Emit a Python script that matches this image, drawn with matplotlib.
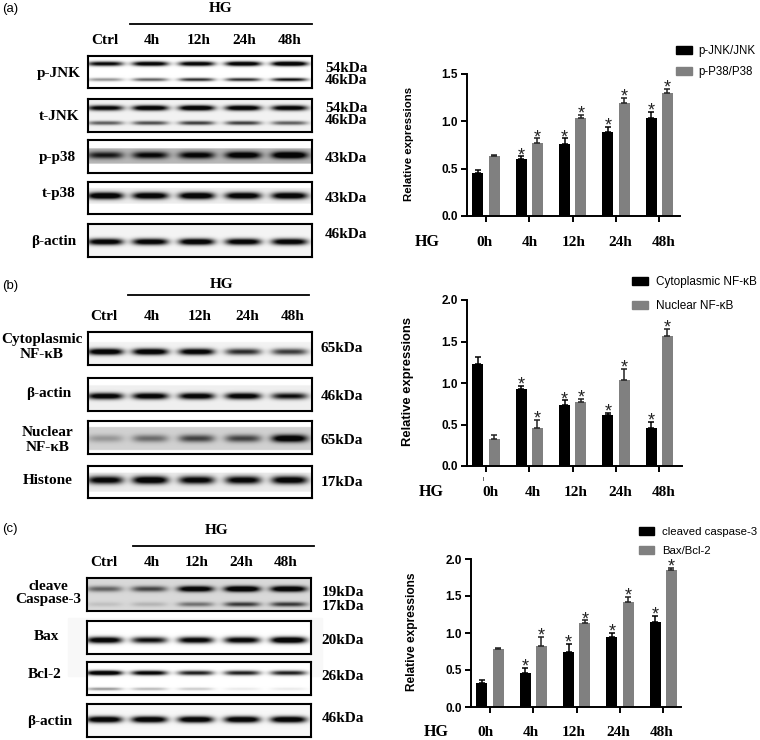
import numpy as np
import matplotlib
matplotlib.use('Agg')
from matplotlib import pyplot as plt
from matplotlib.patches import Rectangle

W, H = 760, 740
SERIF = 'Liberation Serif'
SANS = 'Liberation Sans'

# bar chart values: means and tops of the error bars
groups = ['0h', '4h', '12h', '24h', '48h']
lanes = ['Ctrl', '4h', '12h', '24h', '48h']

a_black = [0.45, 0.60, 0.76, 0.89, 1.04]
a_black_top = [0.49, 0.63, 0.82, 0.94, 1.10]
a_grey = [0.63, 0.77, 1.04, 1.19, 1.30]
a_grey_top = [0.64, 0.82, 1.07, 1.25, 1.34]

b_black = [1.23, 0.93, 0.73, 0.61, 0.46]
b_black_top = [1.31, 0.96, 0.79, 0.64, 0.53]
b_grey = [0.32, 0.46, 0.77, 1.04, 1.57]
b_grey_top = [0.37, 0.56, 0.81, 1.17, 1.65]

c_black = [0.32, 0.46, 0.74, 0.95, 1.15]
c_black_top = [0.36, 0.53, 0.85, 1.00, 1.23]
c_grey = [0.78, 0.83, 1.13, 1.42, 1.85]
c_grey_top = [0.80, 0.95, 1.17, 1.49, 1.88]

# no star on the 0h bars
star_black = [False, True, True, True, True]
star_grey = [False, True, True, True, True]

# band darkness per lane, estimated from the blots
p_jnk_54 = [0.75, 0.85, 0.85, 0.9, 0.98]
p_jnk_46 = [0.3, 0.45, 0.6, 0.6, 0.7]
t_jnk_54 = [0.8, 0.9, 0.95, 0.9, 0.85]
t_jnk_46 = [0.45, 0.5, 0.55, 0.55, 0.45]
p_p38 = [0.65, 0.75, 0.8, 0.9, 1.0]
t_p38 = [0.95, 0.9, 0.95, 0.9, 0.9]
actin_a = [0.85, 0.85, 0.9, 0.85, 0.85]

cyto_nfkb = [0.9, 0.9, 0.85, 0.6, 0.55]
actin_b = [0.85, 0.85, 0.85, 0.85, 0.7]
nuc_nfkb = [0.2, 0.35, 0.5, 0.5, 0.9]
histone = [0.8, 0.9, 0.8, 0.8, 0.85]

casp_19 = [0.4, 0.5, 0.9, 1.0, 0.95]
casp_17 = [0.08, 0.12, 0.35, 0.55, 0.55]
bax = [0.85, 0.7, 0.8, 0.8, 0.95]
bcl2_top = [0.95, 0.8, 0.65, 0.65, 0.65]
bcl2_low = [0.3, 0.2, 0.15, 0.06, 0.06]
actin_c = [0.9, 0.9, 0.9, 0.9, 0.9]

fig = plt.figure(figsize=(W / 100, H / 100), dpi=100)


def px_axes(x0, y0, x1, y1, **kw):
    # y0 is the top edge, all in picture pixels
    return fig.add_axes([x0 / W, 1 - y1 / H, (x1 - x0) / W, (y1 - y0) / H], **kw)


def label(x, y, s, font=SERIF, size=11, weight='bold', **kw):
    fig.text(x / W, 1 - y / H, s, family=font, fontsize=size, weight=weight,
             ha=kw.pop('ha', 'center'), va=kw.pop('va', 'center'), **kw)


def blot(box, bands, lane_x, bg=1.0, strip=None):
    # bands: (height in box, darkness per lane, thickness)
    x0, y0, x1, y1 = box
    ax = px_axes(x0, y0, x1, y1)
    ny, nx = (y1 - y0) * 3, (x1 - x0) * 3
    yy, xx = np.mgrid[0:1:ny * 1j, 0:1:nx * 1j]
    img = np.full((ny, nx), 1.0)
    if strip:
        img[(yy > strip[0]) & (yy < strip[1])] = strip[2]
    else:
        img[:] = bg
    for yc, dark, thick in bands:
        for lx, d in zip(lane_x, dark):
            shape = np.exp(-((xx - lx) / 0.08) ** 4) * np.exp(-((yy - yc) / (thick * 0.9)) ** 2)
            img *= 1 - np.clip(1.4 * d * shape, 0, 0.97)
    ax.imshow(img, cmap='gray', vmin=0, vmax=1, aspect='auto', extent=(0, 1, 1, 0),
              interpolation='bilinear')
    ax.set_xticks([])
    ax.set_yticks([])
    for s in ax.spines.values():
        s.set_linewidth(1.5)


def bars(box, ymax, yticks, black, black_top, grey, grey_top, first_x, ylab_x, ylab_size):
    x0, y0, x1, y1 = box
    ax = px_axes(x0, y0, x1, y1)
    x = np.arange(len(groups))
    off, w = 0.188, 0.254
    ax.bar(x - off, black, w, color='black')
    ax.bar(x + off, grey, w, color='#808080')
    ax.errorbar(x - off, black, yerr=[np.zeros(5), np.array(black_top) - black], fmt='none',
                ecolor='black', elinewidth=1.1, capsize=2.4, capthick=1.1)
    ax.errorbar(x + off, grey, yerr=[np.zeros(5), np.array(grey_top) - grey], fmt='none',
                ecolor='#222222', elinewidth=1.1, capsize=2.4, capthick=1.1)
    for i in x:
        if star_black[i]:
            ax.annotate('*', (i - off, black_top[i]), xytext=(0, -5.5), textcoords='offset points',
                        ha='center', va='bottom', fontsize=13, family=SANS, color='#222222')
        if star_grey[i]:
            ax.annotate('*', (i + off, grey_top[i]), xytext=(0, -5.5), textcoords='offset points',
                        ha='center', va='bottom', fontsize=13, family=SANS, color='#222222')
    ax.set_ylim(0, ymax)
    ax.set_xlim(-first_x, (x1 - x0) / 43.3 - first_x)
    ax.set_xticks(x)
    ax.set_xticklabels([])
    ax.set_yticks(yticks)
    ax.set_yticklabels(['%.1f' % t for t in yticks], family=SANS, fontsize=8.5, weight='bold')
    ax.tick_params(width=1.4, length=4.5, pad=2)
    ax.patch.set_alpha(0)
    for s in ['top', 'right']:
        ax.spines[s].set_visible(False)
    for s in ['left', 'bottom']:
        ax.spines[s].set_linewidth(1.4)
    label(ylab_x, (y0 + y1) / 2 - 1, 'Relative expressions', font=SANS, size=ylab_size, rotation=90)
    return ax


def legend(ax, names, x, y, gap, size, hlen, tpad):
    h = [Rectangle((0, 0), 1, 1, color=c) for c in ['black', '#808080']]
    ax.legend(h, names, loc='upper left', bbox_to_anchor=(x / W, 1 - y / H),
              bbox_transform=fig.transFigure, frameon=False, borderpad=0, borderaxespad=0,
              handlelength=hlen, handleheight=0.7, handletextpad=tpad, labelspacing=gap,
              prop={'family': SANS, 'size': size})


def top_header(line, line_y, hg, lab_y, lab_x):
    fig.add_artist(plt.Line2D([line[0] / W, line[1] / W], [1 - line_y / H] * 2,
                              color='black', lw=1.3))
    label(hg[0], hg[1], 'HG')
    for xp, s in zip(lab_x, lanes):
        label(xp, lab_y, s)


def bottom_labels(xs, y, hg_x):
    label(hg_x, y, 'HG', size=11.5)
    for xp, s in zip(xs, groups):
        label(xp, y, s)


# panel a
label(10, 9, '(a)', font=SANS, size=9.5, weight='normal')
top_header((130, 312), 24, (221, 8), 40, [105, 152, 199, 244, 290])
lanes_a = [0.077, 0.278, 0.485, 0.693, 0.9]
blot((88, 56, 312, 88), [(0.24, p_jnk_54, 0.08), (0.74, p_jnk_46, 0.06)], lanes_a)
blot((88, 99, 312, 132), [(0.27, t_jnk_54, 0.09), (0.73, t_jnk_46, 0.07)], lanes_a, bg=0.95)
blot((88, 140, 312, 173), [(0.46, p_p38, 0.12)], lanes_a, strip=(0.25, 0.72, 0.72))
blot((88, 182, 312, 214), [(0.43, t_p38, 0.12)], lanes_a, strip=(0.18, 0.68, 0.93))
blot((88, 224, 312, 257), [(0.54, actin_a, 0.11)], lanes_a, bg=0.96)
for xp, yp, s in [(59, 73, 'p-JNK'), (59, 116, 't-JNK'), (57, 157, 'p-p38'),
                  (59, 194, 't-p38'), (54, 242, 'β-actin')]:
    label(xp, yp, s)
for yp, s in [(68, '54kDa'), (80, '46kDa'), (109, '54kDa'), (121, '46kDa'), (159, '43kDa'),
              (199, '43kDa'), (234, '46kDa')]:
    label(346, yp, s)
ax = bars((467, 74, 680, 216), 1.5, [0, 0.5, 1.0, 1.5], a_black, a_black_top, a_grey, a_grey_top,
          0.44, 409, 8.2)
legend(ax, ['p-JNK/JNK', 'p-P38/P38'], 676, 45, 0.75, 8.3, 1.35, 0.55)
bottom_labels([484, 530, 574, 620, 664], 242, 427)

# panel b
label(10, 286, '(b)', font=SANS, size=9.5, weight='normal')
top_header((128, 309), 295, (222, 284), 317, [104, 152, 200, 247, 293])
blot((88, 332, 312, 365), [(0.6, cyto_nfkb, 0.11)], lanes_a, strip=(0.3, 1.0, 0.95))
blot((88, 378, 312, 411), [(0.55, actin_b, 0.11)], lanes_a, strip=(0.22, 1.0, 0.94))
blot((88, 421, 312, 454), [(0.53, nuc_nfkb, 0.13)], lanes_a, strip=(0.18, 0.88, 0.82))
blot((88, 466, 312, 498), [(0.44, histone, 0.14)], lanes_a, strip=(0.2, 0.8, 0.92))
for xp, yp, s in [(42, 340, 'Cytoplasmic'), (42, 355, 'NF-κB'), (49, 394, 'β-actin'),
                  (48, 432, 'Nuclear'), (48, 447, 'NF-κB'), (48, 481, 'Histone')]:
    label(xp, yp, s)
for yp, s in [(349, '65kDa'), (396, '46kDa'), (440, '65kDa'), (482, '17kDa')]:
    label(342, yp, s)
ax = bars((467, 300, 682, 466), 2.0, [0, 0.5, 1.0, 1.5, 2.0], b_black, b_black_top, b_grey,
          b_grey_top, 0.44, 408, 9.4)
legend(ax, ['Cytoplasmic NF-κB', 'Nuclear NF-κB'], 632, 276, 1.0, 8.5, 1.35, 0.7)
fig.add_artist(plt.Line2D([483 / W] * 2, [1 - 477 / H, 1 - 480 / H], color='#666666', lw=0.7))
bottom_labels([490, 533, 576, 620, 664], 492, 431)

# panel c
label(10, 529, '(c)', font=SANS, size=9.5, weight='normal')
top_header((133, 314), 546, (217, 530), 563, [104, 152, 197, 241, 286])
fig.add_artist(Rectangle((68 / W, 1 - 676 / H), 254 / W, 58 / H, color='#f8f8f8',
                         transform=fig.transFigure, zorder=-1))
blot((87, 578, 311, 611), [(0.33, casp_19, 0.1), (0.8, casp_17, 0.08)], lanes_a, bg=0.85)
blot((87, 621, 311, 654), [(0.58, bax, 0.11)], lanes_a)
blot((87, 662, 311, 695), [(0.33, bcl2_top, 0.08), (0.82, bcl2_low, 0.05)], lanes_a)
blot((87, 704, 311, 737), [(0.47, actin_c, 0.11)], lanes_a, bg=0.97)
for xp, yp, s in [(48, 587, 'cleave'), (48, 599, 'Caspase-3'), (46, 636, 'Bax'),
                  (45, 675, 'Bcl-2'), (50, 721, 'β-actin')]:
    label(xp, yp, s)
for yp, s in [(593, '19kDa'), (606, '17kDa'), (640, '20kDa'), (676, '26kDa'), (719, '46kDa')]:
    label(343, yp, s)
ax = bars((471, 559, 681, 707), 2.0, [0, 0.5, 1.0, 1.5, 2.0], c_black, c_black_top, c_grey,
          c_grey_top, 0.44, 412, 8.6)
legend(ax, ['cleaved caspase-3', 'Bax/Bcl-2'], 639, 527, 0.75, 8.2, 1.3, 0.7)
bottom_labels([485, 531, 574, 618, 662], 732, 436)

fig.savefig('out.png', dpi=100)
